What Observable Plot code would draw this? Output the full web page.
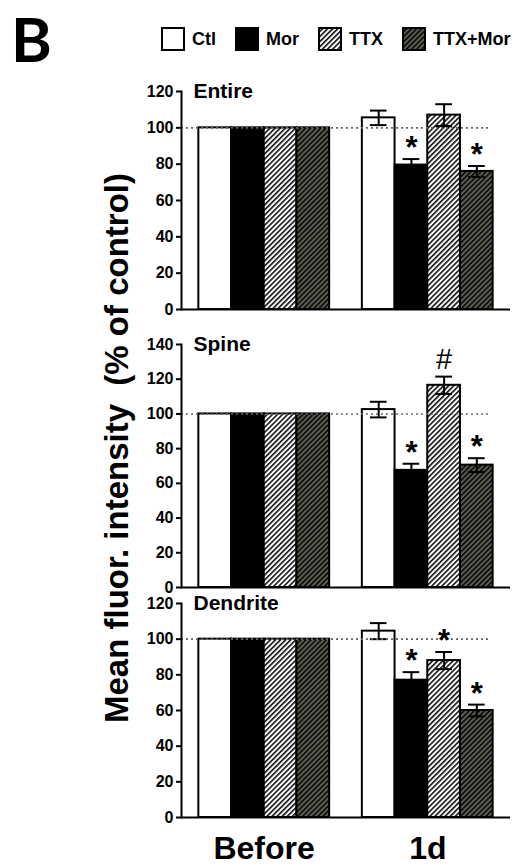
<!DOCTYPE html>
<html><head><meta charset="utf-8">
<script src="https://cdn.jsdelivr.net/npm/d3@7"></script>
<script src="https://cdn.jsdelivr.net/npm/@observablehq/plot@0.6"></script>
<style>
body{margin:0;background:#fff;}
#fig{position:relative;width:525px;height:865px;font-family:"Liberation Sans",Arial,sans-serif;color:#000;overflow:hidden;background:#fff}
.abs{position:absolute}
#legend{position:absolute;left:161px;top:27px;display:flex;align-items:center;font-size:18px;font-weight:bold;white-space:nowrap}
#legend .item{display:flex;align-items:center;margin-right:19px}
#legend svg{margin-right:7px;display:block}
#ytitle{position:absolute;left:117px;top:448px;transform:translate(-50%,-50%) rotate(-90deg);white-space:nowrap;font-size:33px;font-weight:bold}
</style></head><body>
<svg width="0" height="0" style="position:absolute">
  <defs>
    <pattern id="hatchTTX" patternUnits="userSpaceOnUse" width="3.6" height="3.6" patternTransform="rotate(45)">
      <rect width="3.6" height="3.6" fill="white"/>
      <line x1="0.8" y1="0" x2="0.8" y2="3.6" stroke="black" stroke-width="1.5"/>
    </pattern>
    <pattern id="hatchTTXMor" patternUnits="userSpaceOnUse" width="3.6" height="3.6" patternTransform="rotate(45)">
      <rect width="3.6" height="3.6" fill="#5e5e55"/>
      <line x1="0.8" y1="0" x2="0.8" y2="3.6" stroke="black" stroke-width="1.5"/>
    </pattern>
  </defs>
</svg>
<div id="fig">
  <svg class="abs" style="left:0;top:0" width="120" height="80"><text x="11" y="62" font-family="Lato, 'Open Sans', sans-serif" font-weight="bold" font-size="62">B</text></svg>
  <div id="legend"></div>
  <div id="ytitle">Mean fluor. intensity&nbsp; (% of control)</div>
  <div id="p1" class="abs" style="left:0;top:61px"></div>
  <div id="p2" class="abs" style="left:0;top:314px"></div>
  <div id="p3" class="abs" style="left:0;top:573px"></div>
  <div id="p4" class="abs" style="left:0;top:817px"></div>
</div>
<script>
// ---- data ----
const groups = ["Before", "1d"];
const conditions = ["Ctl", "Mor", "TTX", "TTX+Mor"];
const fills = ["white", "black", "url(#hatchTTX)", "url(#hatchTTXMor)"];
const beforeMean = [100, 100, 100, 100];

const entireTitle = "Entire";
const entireTicks = [0, 20, 40, 60, 80, 100, 120];
const entireMean = [105.5, 79.5, 107, 76];
const entireSem = [4, 3.3, 6, 3];
const entireSig = ["", "*", "", "*"];

const spineTitle = "Spine";
const spineTicks = [0, 20, 40, 60, 80, 100, 120, 140];
const spineMean = [102.5, 67.5, 116.5, 70.5];
const spineSem = [4.5, 3.8, 5, 4];
const spineSig = ["", "*", "#", "*"];

const dendriteTitle = "Dendrite";
const dendriteTicks = [0, 20, 40, 60, 80, 100, 120];
const dendriteMean = [104.5, 77, 88, 60];
const dendriteSem = [4.5, 4.5, 4.8, 3.3];
const dendriteSig = ["", "*", "*", "*"];

const reference = 100;

// ---- legend ----
const leg = d3.select("#legend");
conditions.forEach((c, i) => {
  const it = leg.append("div").attr("class", "item");
  const s = it.append("svg").attr("width", 24).attr("height", 24);
  s.append("rect").attr("x", 1).attr("y", 1).attr("width", 22).attr("height", 22)
    .attr("fill", fills[i]).attr("stroke", "black").attr("stroke-width", 2);
  it.append("span").text(c);
});

// ---- panels ----
const slots = [];
groups.forEach((g, gi) => {
  if (gi > 0) slots.push("gap" + gi);
  conditions.forEach(c => slots.push(g + "|" + c));
});

function panel(sel, title, ticks, means, sems, sigs, height) {
  const ymax = ticks[ticks.length - 1];
  const rows = [];
  groups.forEach((g, gi) => conditions.forEach((c, ci) => {
    rows.push({
      key: g + "|" + c, cond: c,
      value: gi === 0 ? beforeMean[ci] : means[ci],
      sem: gi === 0 ? null : sems[ci],
      sig: gi === 0 ? "" : sigs[ci]
    });
  }));
  const errs = rows.filter(d => d.sem != null);
  const chart = Plot.plot({
    width: 525, height,
    marginLeft: 181, marginRight: 15, marginTop: 30, marginBottom: 10,
    style: {fontFamily: "'Liberation Sans', Arial, sans-serif", fontWeight: "bold", background: "transparent", overflow: "visible", color: "black"},
    x: {type: "band", domain: slots, paddingInner: 0, paddingOuter: 0.53, round: false, axis: null},
    y: {domain: [0, ymax]},
    color: {type: "ordinal", domain: conditions, range: fills},
    marks: [
      Plot.barY(rows, {x: "key", y: "value", fill: "cond", stroke: "black", strokeWidth: 2}),
      Plot.ruleX(errs, {x: "key", y1: d => d.value - d.sem, y2: d => d.value + d.sem, stroke: "black", strokeWidth: 2}),
      Plot.tickY(errs, {x: "key", y: d => d.value + d.sem, insetLeft: 8, insetRight: 8, stroke: "black", strokeWidth: 2}),
      Plot.tickY(errs, {x: "key", y: d => d.value - d.sem, insetLeft: 8, insetRight: 8, stroke: "black", strokeWidth: 2}),
      Plot.ruleY([reference], {stroke: "#666", strokeDasharray: "2,3", strokeWidth: 1.6, insetRight: 22}),
      Plot.text(errs.filter(d => d.sig === "*"), {x: "key", y: d => d.value + d.sem, text: "sig", dy: -11, fontSize: 31, fontWeight: "bold", lineAnchor: "middle"}),
      Plot.text(errs.filter(d => d.sig === "#"), {x: "key", y: d => d.value + d.sem, text: "sig", dy: -17, fontSize: 29, fontWeight: "normal", lineAnchor: "middle"}),
      Plot.ruleY([0], {stroke: "black", strokeWidth: 2}),
      Plot.frame({anchor: "left", stroke: "black", strokeWidth: 2}),
      Plot.axisY({ticks, tickSize: 5, tickPadding: 3, fontSize: 16, strokeWidth: 2, label: null}),
      Plot.text([title], {frameAnchor: "top-left", textAnchor: "start", lineAnchor: "middle", dx: 12, fontSize: 21, fontWeight: "bold"})
    ]
  });
  document.querySelector(sel).append(chart);
}

panel("#p1", entireTitle, entireTicks, entireMean, entireSem, entireSig, 258);
panel("#p2", spineTitle, spineTicks, spineMean, spineSem, spineSig, 283);
panel("#p3", dendriteTitle, dendriteTicks, dendriteMean, dendriteSem, dendriteSig, 254);

// group labels
const lab = Plot.plot({
  width: 525, height: 48, marginLeft: 181, marginRight: 15, marginTop: 0, marginBottom: 48,
  style: {fontFamily: "'Liberation Sans', Arial, sans-serif", fontWeight: "bold", background: "transparent", overflow: "visible", color: "black"},
  x: {type: "band", domain: groups, paddingInner: 0.2, paddingOuter: 0.104, round: false},
  marks: [Plot.axisX({tickSize: 0, tickPadding: 19, fontSize: 32, label: null})]
});
document.querySelector("#p4").append(lab);
</script>
</body></html>
